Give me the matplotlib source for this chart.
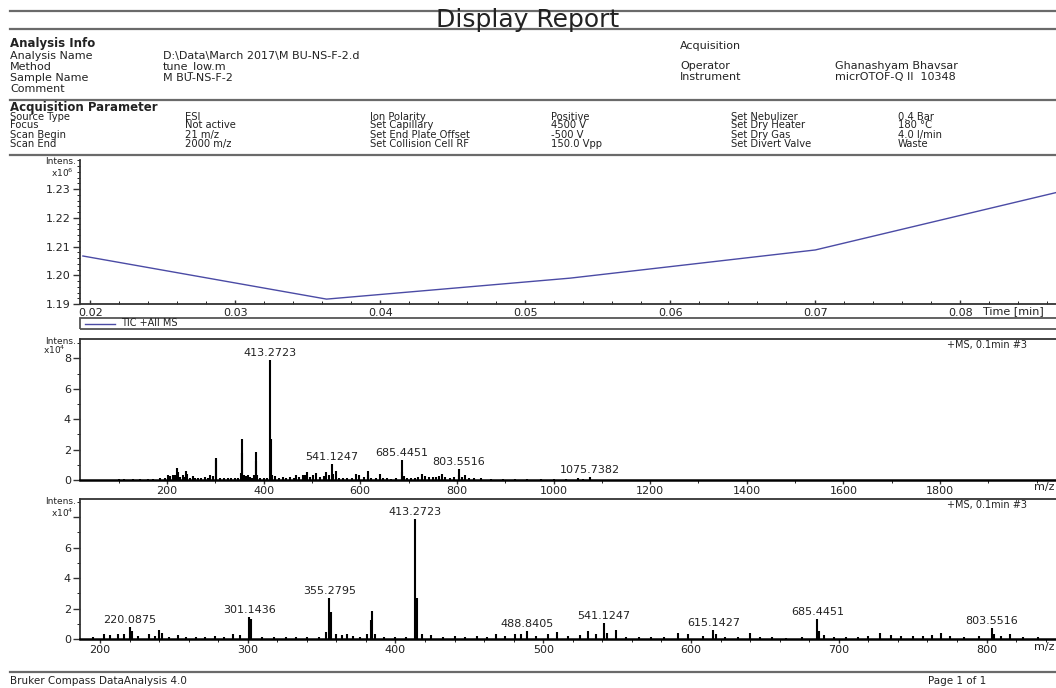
import matplotlib
matplotlib.use("Agg")
import matplotlib.pyplot as plt
from matplotlib.ticker import MultipleLocator
from matplotlib.lines import Line2D
from matplotlib.patches import Rectangle

W, H = 1056, 688

# report header
title = "Display Report"
info_labels = ["Analysis Name", "Method", "Sample Name", "Comment"]
info_values = ["D:\\Data\\March 2017\\M BU-NS-F-2.d", "tune_low.m", "M BU-NS-F-2", ""]
acq_labels = ["Operator", "Instrument"]
acq_values = ["Ghanashyam Bhavsar", "micrOTOF-Q II  10348"]

param_labels_1 = ["Source Type", "Focus", "Scan Begin", "Scan End"]
param_values_1 = ["ESI", "Not active", "21 m/z", "2000 m/z"]
param_labels_2 = ["Ion Polarity", "Set Capillary", "Set End Plate Offset", "Set Collision Cell RF"]
param_values_2 = ["Positive", "4500 V", "-500 V", "150.0 Vpp"]
param_labels_3 = ["Set Nebulizer", "Set Dry Heater", "Set Dry Gas", "Set Divert Valve"]
param_values_3 = ["0.4 Bar", "180 \u00b0C", "4.0 l/min", "Waste"]

# TIC (x10^6)
tic_time = [0.0195, 0.0363, 0.0531, 0.0700, 0.0868]
tic_int = [1.2067, 1.1917, 1.1990, 1.2088, 1.2290]
tic_yticks = [1.19, 1.20, 1.21, 1.22, 1.23]
tic_xticks = [0.02, 0.03, 0.04, 0.05, 0.06, 0.07, 0.08]

# mass spectrum (x10^4)
mz = [100, 112, 130, 145, 160, 172, 185, 195, 203, 207, 212, 216, 220.0875, 222, 226,
      233, 237, 240, 242, 247, 253, 258, 265, 271, 278, 284, 290, 295, 301.1436, 302.1,
      310, 318, 326, 333, 340, 348, 353.3, 355.2795, 356.3, 360, 364, 367, 371, 376,
      381, 383.3, 384.3, 386, 392, 400, 407, 413.2723, 414.3, 418, 424, 432, 440, 447,
      455, 462, 468, 474, 481, 485, 488.8405, 495, 503, 509, 517, 525, 530, 536,
      541.1247, 543, 549, 556, 565, 573, 582, 591, 598, 608, 615.1427, 617, 623, 632,
      640, 647, 655, 664, 675, 685.4451, 686.4, 690, 697, 705, 713, 720, 728, 735, 742,
      750, 757, 763, 769, 775, 785, 795, 803.5516, 805, 810, 816, 825, 835, 850, 870,
      895, 920, 945, 975, 1000, 1025, 1050, 1062, 1075.7382]
intens = [0.04, 0.05, 0.06, 0.05, 0.07, 0.06, 0.10, 0.15, 0.30, 0.25, 0.33, 0.30, 0.78, 0.55, 0.20,
          0.33, 0.20, 0.58, 0.40, 0.15, 0.28, 0.12, 0.15, 0.12, 0.20, 0.15, 0.33, 0.25, 1.43, 1.30,
          0.10, 0.10, 0.12, 0.10, 0.12, 0.15, 0.45, 2.70, 1.75, 0.30, 0.25, 0.30, 0.20, 0.15,
          0.35, 1.25, 1.86, 0.30, 0.10, 0.12, 0.10, 7.90, 2.70, 0.30, 0.25, 0.15, 0.20, 0.15,
          0.18, 0.15, 0.30, 0.20, 0.35, 0.30, 0.55, 0.20, 0.35, 0.44, 0.20, 0.25, 0.50, 0.30,
          1.05, 0.40, 0.60, 0.15, 0.10, 0.12, 0.15, 0.40, 0.30, 0.20, 0.60, 0.35, 0.15, 0.12,
          0.42, 0.15, 0.10, 0.08, 0.15, 1.30, 0.50, 0.25, 0.15, 0.12, 0.15, 0.20, 0.40, 0.25, 0.18,
          0.20, 0.20, 0.25, 0.40, 0.20, 0.15, 0.20, 0.72, 0.35, 0.20, 0.30, 0.15, 0.10, 0.12, 0.08,
          0.08, 0.06, 0.08, 0.05, 0.06, 0.08, 0.10, 0.08, 0.18]
labels_full = [413.2723, 541.1247, 685.4451, 803.5516, 1075.7382]
labels_zoom = [220.0875, 301.1436, 355.2795, 413.2723, 488.8405, 541.1247, 615.1427, 685.4451, 803.5516]
full_xticks = [200, 400, 600, 800, 1000, 1200, 1400, 1600, 1800]
zoom_xticks = [200, 300, 400, 500, 600, 700, 800]
full_yticks = [0, 2, 4, 6, 8]
zoom_yticks = [0, 2, 4, 6, 8]

txt = "#222222"
rule = "#6a6a6a"
tic_color = "#4b4ba5"


def fx(px):
    return px / W


def fy(py):
    return 1 - py / H


fig = plt.figure(figsize=(W / 100, H / 100), dpi=100)

# horizontal rules
for y in [11, 29, 100, 155, 672]:
    fig.add_artist(Line2D([fx(10), 1], [fy(y), fy(y)], transform=fig.transFigure,
                          color=rule, lw=1.6))

fig.text(0.5, fy(20), title, ha="center", va="center", fontsize=18, color=txt)

# Analysis info
fig.text(fx(10), fy(44), "Analysis Info", fontsize=8.5, weight="bold", va="center", color=txt)
for i, (lab, val) in enumerate(zip(info_labels, info_values)):
    y = [56, 67, 78, 89][i]
    fig.text(fx(10), fy(y), lab, fontsize=8, va="center", color=txt)
    fig.text(fx(163), fy(y), val, fontsize=8, va="center", color=txt)
fig.text(fx(680), fy(46), "Acquisition", fontsize=8, va="center", color=txt)
for i, (lab, val) in enumerate(zip(acq_labels, acq_values)):
    y = [66, 77][i]
    fig.text(fx(680), fy(y), lab, fontsize=8, va="center", color=txt)
    fig.text(fx(835), fy(y), val, fontsize=8, va="center", color=txt)

# Acquisition parameters
fig.text(fx(10), fy(107), "Acquisition Parameter", fontsize=8.5, weight="bold", va="center", color=txt)
cols = [(10, 185, param_labels_1, param_values_1),
        (370, 551, param_labels_2, param_values_2),
        (731, 898, param_labels_3, param_values_3)]
for xl, xv, labs, vals in cols:
    for i, (lab, val) in enumerate(zip(labs, vals)):
        y = [117, 125, 135, 144][i]
        fig.text(fx(xl), fy(y), lab, fontsize=7.2, va="center", color=txt)
        fig.text(fx(xv), fy(y), val, fontsize=7.2, va="center", color=txt)


def style_axis(ax, top=True):
    ax.spines["right"].set_visible(False)
    ax.spines["top"].set_visible(top)
    for s in ["left", "bottom", "top"]:
        ax.spines[s].set_linewidth(1.3)
        ax.spines[s].set_color("#333333")
    ax.tick_params(axis="both", which="major", labelsize=8, colors="#333333",
                   labelcolor=txt, width=1.0, pad=1.5)
    ax.tick_params(axis="y", which="major", length=5)
    ax.tick_params(axis="y", which="minor", length=2.5)
    ax.tick_params(axis="x", which="major", length=3)
    ax.tick_params(axis="x", which="minor", length=2)


# panel 1: TIC
ax1 = fig.add_axes([fx(80), fy(304), 1 - fx(80), (304 - 160) / H])
ax1.plot(tic_time, tic_int, color=tic_color, lw=1.0)
ax1.set_xlim(0.0193, 0.0866)
ax1.set_ylim(1.19, 1.2401)
ax1.set_yticks(tic_yticks)
ax1.set_yticklabels([f"{v:.2f}" for v in tic_yticks])
ax1.set_xticks(tic_xticks)
ax1.set_xticklabels([f"{v:.2f}" for v in tic_xticks])
ax1.yaxis.set_minor_locator(MultipleLocator(0.002))
ax1.xaxis.set_minor_locator(MultipleLocator(0.002))
style_axis(ax1, top=False)
ax1.tick_params(axis="x", which="both", direction="in")
ax1.tick_params(axis="x", which="major", pad=3)
fig.text(fx(76), fy(162), "Intens.", fontsize=6.5, ha="right", va="center", color=txt)
fig.text(fx(74), fy(173), "x10$^6$", fontsize=6.5, ha="right", va="center", color=txt)
fig.text(fx(983), fy(311), "Time [min]", fontsize=8, va="center", color=txt)

# legend box of the TIC
fig.add_artist(Rectangle((fx(80), fy(329)), 1.02 - fx(80), 11 / H, transform=fig.transFigure,
                         fill=False, edgecolor="#555555", lw=1.3))
fig.add_artist(Line2D([fx(85), fx(115)], [fy(323.5), fy(323.5)], transform=fig.transFigure,
                      color=tic_color, lw=1.0))
fig.text(fx(121), fy(323.5), "TIC +All MS", fontsize=7, va="center", color=txt)


def spectrum(ax, xlim, ylim, xticks, yticks, ylabels, xminor, peak_labels):
    sel = [(m, v) for m, v in zip(mz, intens) if xlim[0] <= m <= xlim[1] + 50]
    ax.vlines([m for m, v in sel], 0, [v for m, v in sel], color="black", lw=1.5)
    ax.set_xlim(*xlim)
    ax.set_ylim(*ylim)
    ax.set_xticks(xticks)
    ax.set_yticks(yticks)
    ax.set_yticklabels(ylabels)
    ax.xaxis.set_minor_locator(MultipleLocator(xminor))
    ax.yaxis.set_minor_locator(MultipleLocator(1))
    style_axis(ax, top=True)
    ax.spines["bottom"].set_linewidth(1.8)
    ax.spines["bottom"].set_color("black")
    for p in peak_labels:
        i = mz.index(p)
        ax.annotate(f"{p:.4f}", (p, intens[i]), xytext=(0, 1.5), textcoords="offset points",
                    ha="center", va="bottom", fontsize=8, color=txt)


# panel 2: full spectrum
ax2 = fig.add_axes([fx(80), fy(480), 1 - fx(80), (480 - 339) / H])
spectrum(ax2, (20, 2040), (0, 9.28), full_xticks, full_yticks,
         [str(v) for v in full_yticks], 100, labels_full)
fig.text(fx(76), fy(341), "Intens.", fontsize=6.5, ha="right", va="center", color=txt)
fig.text(fx(66), fy(350), "x10$^4$", fontsize=6.5, ha="right", va="center", color=txt)
fig.text(fx(1034), fy(487), "m/z", fontsize=8, va="center", color=txt)
fig.text(fx(947), fy(345), "+MS, 0.1min #3", fontsize=7, va="center", color=txt)

# panel 3: zoomed spectrum
ax3 = fig.add_axes([fx(80), fy(639), 1 - fx(80), (639 - 499) / H])
spectrum(ax3, (186.5, 847), (0, 9.2), zoom_xticks, zoom_yticks,
         [str(v) for v in zoom_yticks[:-1]] + [""], 20, labels_zoom)
fig.text(fx(76), fy(502), "Intens.", fontsize=6.5, ha="right", va="center", color=txt)
fig.text(fx(74), fy(513), "x10$^4$", fontsize=6.5, ha="right", va="center", color=txt)
fig.text(fx(1034), fy(647), "m/z", fontsize=8, va="center", color=txt)
fig.text(fx(947), fy(505), "+MS, 0.1min #3", fontsize=7, va="center", color=txt)

# footer
fig.text(fx(10), fy(681), "Bruker Compass DataAnalysis 4.0", fontsize=7.5, va="center", color=txt)
fig.text(fx(928), fy(681), "Page 1 of 1", fontsize=7.5, va="center", color=txt)

fig.savefig("out.png", dpi=100)
